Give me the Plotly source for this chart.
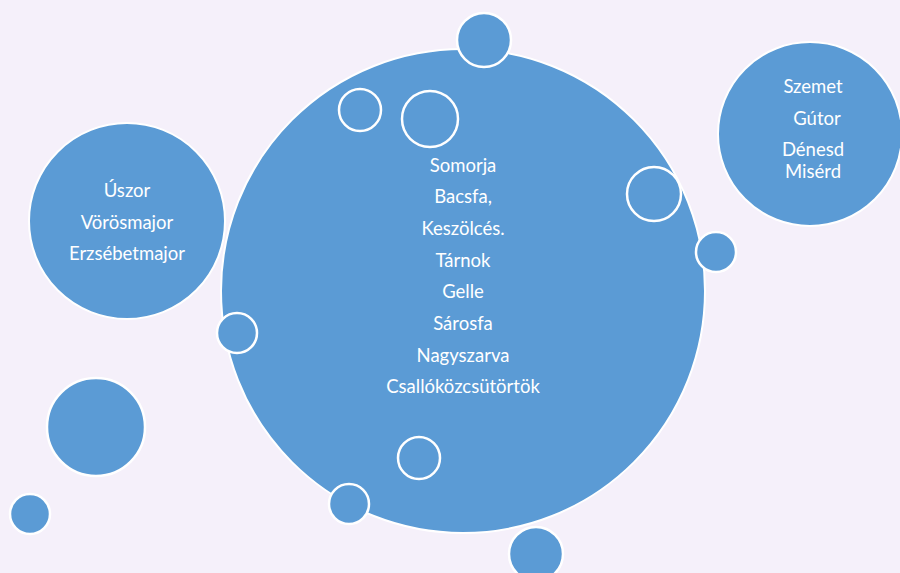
import plotly.graph_objects as go

# Buborékok: középpont (x, y) és sugár, pixelben mért rajzlapon
big_x = [463, 127, 810]
big_y = [291, 221, 134]
big_r = [242, 98, 92]

filled_x = [484, 716, 237, 96, 30, 349, 536]
filled_y = [40, 252, 333, 427, 514, 504, 554]
filled_r = [27, 20, 20, 49, 20, 20, 27]

ring_x = [360, 430, 654, 419]
ring_y = [110, 119, 194, 458]
ring_r = [21, 28, 27, 21]

# Feliratok (soronként) és a sorok helye
center_labels = ["Somorja", "Bacsfa,", "Keszölcés.", "Tárnok", "Gelle",
                 "Sárosfa", "Nagyszarva", "Csallóközcsütörtök"]
center_label_x = [463] * 8
center_label_y = [167, 198, 230, 262, 293, 325, 357, 388]

left_labels = ["Úszor", "Vörösmajor", "Erzsébetmajor"]
left_label_x = [127, 127, 127]
left_label_y = [192, 224, 255]

right_labels = ["Szemet", "Gútor", "Dénesd", "Misérd"]
right_label_x = [813, 817, 813, 813]
right_label_y = [88, 120, 151, 173]

BLUE = "#5B9BD5"
BG = "#F5F0FA"

fig = go.Figure()


def circle(cx, cy, r, fill, width):
    return dict(
        type="circle", xref="x", yref="y",
        x0=cx - r, x1=cx + r, y0=cy - r, y1=cy + r,
        fillcolor=fill, line=dict(color="white", width=width),
        layer="below",
    )


shapes = []
for cx, cy, r in zip(big_x, big_y, big_r):
    shapes.append(circle(cx, cy, r, BLUE, 2))
for cx, cy, r in zip(filled_x, filled_y, filled_r):
    shapes.append(circle(cx, cy, r, BLUE, 2.5))
for cx, cy, r in zip(ring_x, ring_y, ring_r):
    shapes.append(circle(cx, cy, r, "rgba(0,0,0,0)", 2.5))

for xs, ys, labels in [
    (center_label_x, center_label_y, center_labels),
    (left_label_x, left_label_y, left_labels),
    (right_label_x, right_label_y, right_labels),
]:
    fig.add_trace(go.Scatter(
        x=xs, y=ys, text=labels, mode="text",
        textfont=dict(family="Lato", size=18.5, color="white"),
        hoverinfo="skip", showlegend=False,
    ))

fig.update_layout(
    width=900, height=573,
    margin=dict(l=0, r=0, t=0, b=0),
    paper_bgcolor=BG, plot_bgcolor=BG,
    shapes=shapes,
    xaxis=dict(range=[0, 900], visible=False, fixedrange=True),
    yaxis=dict(range=[573, 0], visible=False, fixedrange=True),
    showlegend=False,
)

# la page sans marge, pour que le dessin couvre toute la fenêtre
fig.write_html(
    "out.html",
    config={"displayModeBar": False},
    post_script="document.body.style.margin='0';document.body.style.overflow='hidden';",
)
